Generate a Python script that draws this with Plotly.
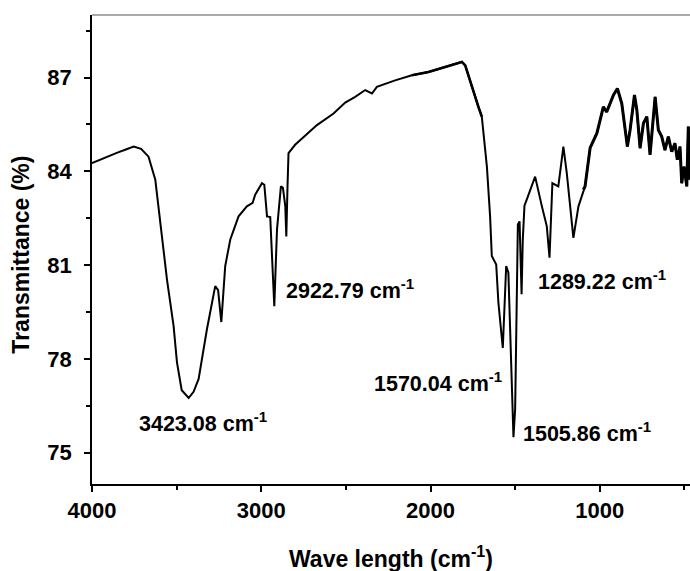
import plotly.graph_objects as go

# Wavenumber (cm-1) and transmittance (%)
wavenumber = [
    4000, 3950, 3900, 3850, 3800, 3754, 3710, 3666, 3626, 3597, 3557, 3518, 3498, 3470,
    3429, 3400, 3370, 3321, 3290, 3272, 3255, 3236, 3213, 3183, 3134, 3085, 3051, 3036,
    2996, 2982, 2966, 2947, 2923, 2907, 2884, 2872, 2858, 2852, 2845, 2839, 2800, 2770,
    2671, 2573, 2504, 2445, 2386, 2346, 2317, 2209, 2110, 2012, 1913, 1815, 1795, 1756,
    1740, 1717, 1697, 1687, 1667, 1648, 1638, 1612, 1599, 1573, 1553, 1540, 1525, 1510,
    1500, 1492, 1484, 1474, 1462, 1455, 1445, 1431, 1410, 1382, 1342, 1313, 1297, 1280,
    1245, 1215, 1195, 1156, 1126, 1097, 1087, 1057, 1017, 979, 959, 919, 896, 870,
    851, 837, 821, 795, 781, 762, 742, 722, 703, 683, 673, 654, 634, 615, 595,
    575, 556, 542, 526, 516, 502, 486, 477, 467,
]
transmittance = [
    84.26, 84.38, 84.50, 84.60, 84.70, 84.79, 84.72, 84.47, 83.73, 82.46, 80.54, 79.06, 77.89, 77.00,
    76.75, 76.95, 77.36, 78.95, 79.90, 80.33, 80.20, 79.18, 80.97, 81.82, 82.56, 82.88, 82.99, 83.25,
    83.62, 83.57, 82.56, 82.54, 79.69, 82.14, 83.52, 83.47, 82.88, 81.92, 83.50, 84.58, 84.85, 85.00,
    85.48, 85.85, 86.20, 86.38, 86.60, 86.49, 86.70, 86.91, 87.07, 87.18, 87.34, 87.50, 87.39, 86.70,
    86.40, 86.06, 85.75, 85.22, 84.15, 82.56, 81.29, 81.02, 79.80, 78.35, 80.97, 80.76, 78.00, 75.50,
    76.40, 79.50, 82.30, 82.40, 80.07, 81.80, 82.90, 83.10, 83.40, 83.83, 82.88, 82.24, 81.24, 83.62,
    83.52, 84.79, 83.94, 81.87, 82.88, 83.41, 83.52, 84.75, 85.22, 86.06, 85.90, 86.44, 86.65, 86.17,
    85.43, 84.79, 85.32, 86.44, 85.96, 84.74, 85.54, 85.75, 84.53, 85.96, 86.38, 85.32, 85.11, 84.68, 85.11,
    84.63, 84.90, 84.37, 84.79, 83.62, 84.15, 83.52, 85.43, 83.73,
]

peak_labels = ["3423.08 cm<sup>-1</sup>", "2922.79 cm<sup>-1</sup>", "1289.22 cm<sup>-1</sup>",
               "1570.04 cm<sup>-1</sup>", "1505.86 cm<sup>-1</sup>"]
label_x = [3343, 2474, 986, 1955, 1074]
label_y = [75.99, 80.23, 80.51, 77.26, 75.67]

x_ticks = [4000, 3000, 2000, 1000]
y_ticks = [75, 78, 81, 84, 87]

FONT = "Liberation Sans, Arial, sans-serif"

# segments of the spectrum that appear as a thicker, noisy band
band1 = [i for i, w in enumerate(wavenumber) if 2110 >= w >= 1697]
band2 = [i for i, w in enumerate(wavenumber) if 1100 >= w]

fig = go.Figure()
fig.add_trace(go.Scatter(x=wavenumber, y=transmittance, mode="lines",
                         line=dict(color="black", width=2.0), showlegend=False))
for band, wdt in ((band1, 2.6), (band2, 3.0)):
    fig.add_trace(go.Scatter(x=[wavenumber[i] for i in band], y=[transmittance[i] for i in band],
                             mode="lines", line=dict(color="black", width=wdt), showlegend=False))

for t, xv, yv in zip(peak_labels, label_x, label_y):
    fig.add_annotation(x=xv, y=yv, text="<b>" + t + "</b>", showarrow=False,
                       xanchor="center", yanchor="middle",
                       font=dict(family=FONT, size=21.5, color="black"))

fig.add_shape(type="line", xref="paper", yref="paper", x0=0, x1=1, y0=1, y1=1,
              line=dict(color="#555555", width=1))

fig.update_layout(
    width=690, height=571,
    margin=dict(l=92, r=0, t=15, b=87),
    plot_bgcolor="white", paper_bgcolor="white",
    font=dict(family=FONT, color="black"),
    xaxis=dict(range=[4000, 467], tickvals=x_ticks, ticktext=[str(v) for v in x_ticks],
               showgrid=False, zeroline=False, showline=True, linecolor="black", linewidth=2,
               ticks="outside", ticklen=6, tickwidth=1.5, tickcolor="black",
               tickfont=dict(family=FONT, size=22, color="black", weight="bold"),
               minor=dict(tickvals=[3500, 2500, 1500, 500], ticks="outside", ticklen=4,
                          tickwidth=1.5, tickcolor="black"),
               ticklabelstandoff=0),
    yaxis=dict(range=[74, 89], tickvals=y_ticks, ticktext=[str(v) for v in y_ticks],
               showgrid=False, zeroline=False, showline=True, linecolor="black", linewidth=1.5,
               ticks="outside", ticklen=6, tickwidth=1.5, tickcolor="black",
               tickfont=dict(family=FONT, size=22, color="black", weight="bold"),
               minor=dict(tickvals=[76.5, 79.5, 82.5, 85.5, 88.5], ticks="outside", ticklen=4,
                          tickwidth=1.5, tickcolor="black"),
               ticklabelstandoff=8),
)

fig.add_annotation(xref="paper", yref="paper", x=0.5, y=-0.155, xanchor="center", yanchor="middle",
                   text="<b>Wave length (cm<sup>-1</sup>)</b>", showarrow=False,
                   font=dict(family=FONT, size=23, color="black"))
fig.add_annotation(xref="paper", yref="paper", x=-0.118, y=0.49, xanchor="center", yanchor="middle",
                   text="<b>Transmittance (%)</b>", showarrow=False, textangle=-90,
                   font=dict(family=FONT, size=23, color="black"))

fig.write_html("out.html", config={"displayModeBar": False},
               post_script="document.body.style.margin='0';")
